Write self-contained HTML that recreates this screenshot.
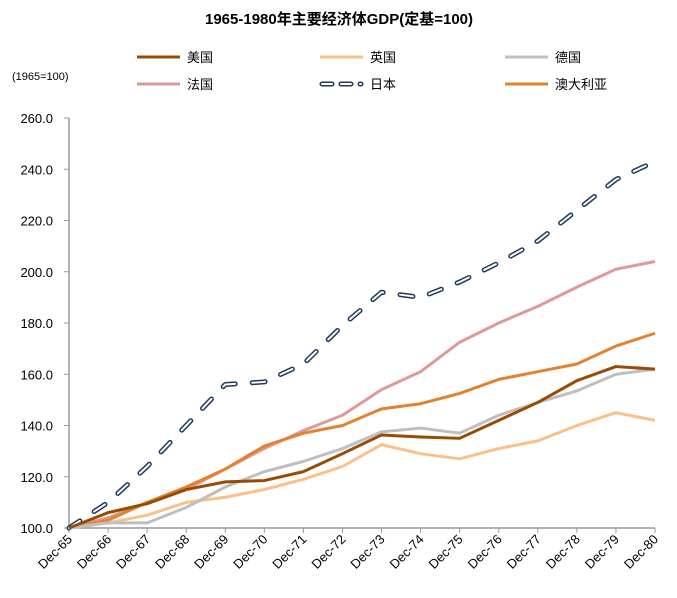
<!DOCTYPE html>
<html><head><meta charset="utf-8"><style>
body{margin:0;background:#fff;}
svg{font-family:"Liberation Sans","Noto Sans CJK SC",sans-serif;}
</style></head><body>
<svg id="chart" width="677" height="593">
<text x="339" y="24" text-anchor="middle" font-size="15" font-weight="bold">1965-1980年主要经济体GDP(定基=100)</text>
<text x="12" y="80" font-size="11">(1965=100)</text>
<g id="legend"></g>
<g id="axes"></g>
<g id="series"></g>
</svg>
<script>
const categories=["Dec-65","Dec-66","Dec-67","Dec-68","Dec-69","Dec-70","Dec-71","Dec-72","Dec-73","Dec-74","Dec-75","Dec-76","Dec-77","Dec-78","Dec-79","Dec-80"];
const usData=[100,106,109.5,115,118,118.5,122,129,136.3,135.5,135,142,149,157.5,163,162];
const ukData=[100,102,105,110,112,115,119,124,132.5,129,127,131,134,140,145,142];
const deData=[100,102,102,108,116,122,126,131,137.5,139,137,144,149,153.5,160,162];
const frData=[100,104,110,115,123,131,138,144,154,161,172.5,180,186.5,194,201,204];
const jpData=[100,110,124,140,156,157,164,179,192,190,196,203.5,212,224,236,243];
const auData=[100,103,110,116,123,132,137,140,146.5,148.5,152.5,158,161,164,171,176];
const yTicks=[100,120,140,160,180,200,220,240,260];
const seriesNames=["美国","英国","德国","法国","日本","澳大利亚"];

const NS="http://www.w3.org/2000/svg";
const x0=69,x1=655,y0=528,y1=118;
const xs=i=>x0+i*(x1-x0)/(categories.length-1);
const ys=v=>y0-(v-100)*(y0-y1)/160;
function mk(tag,attrs,parent){const e=document.createElementNS(NS,tag);for(const k in attrs)e.setAttribute(k,attrs[k]);parent.appendChild(e);return e;}
const axes=document.getElementById('axes'),ser=document.getElementById('series'),leg=document.getElementById('legend');
const ya=mk('line',{x1:x0,y1:y1,x2:x0,y2:y0,stroke:'#999','stroke-width':1.5},axes);


const xa=mk('line',{x1:x0,y1:y0,x2:x1,y2:y0,stroke:'#999','stroke-width':1.5},axes);


yTicks.forEach(v=>{
 mk('line',{x1:x0-5,y1:ys(v),x2:x0,y2:ys(v),stroke:'#999'},axes);
 const t=mk('text',{x:x0-16,y:ys(v)+5,'text-anchor':'end','font-size':13},axes);
 t.textContent=v.toFixed(1);
 
 
});
categories.forEach((c,i)=>{
 mk('line',{x1:xs(i),y1:y0,x2:xs(i),y2:y0+5,stroke:'#999'},axes);
 const t=mk('text',{x:xs(i)+4,y:y0+12,'text-anchor':'end','font-size':13,transform:`rotate(-45 ${xs(i)+4} ${y0+12})`},axes);
 t.textContent=c;
 
 
});
const cfg=[[usData,'#994B06'],[ukData,'#FBC08A'],[deData,'#BFBFBF'],[frData,'#DE9A98'],[jpData,'jp'],[auData,'#E2822F']];
const drawOrder=[4,3,5,1,2,0];
drawOrder.forEach(k=>{
 const [d,col]=cfg[k];
 const pts=d.map((v,i)=>xs(i)+','+ys(v)).join(' ');
 if(col==='jp'){
  const g=mk('g',{},ser);
  
  
  mk('polyline',{points:pts,fill:'none',stroke:'#1F3A5F','stroke-width':5,'stroke-dasharray':'13 17','stroke-linecap':'round','stroke-linejoin':'round'},g);
  mk('polyline',{points:pts,fill:'none',stroke:'#fff','stroke-width':2,'stroke-dasharray':'13 17','stroke-linecap':'round','stroke-linejoin':'round'},g);
 } else {
  const p=mk('polyline',{points:pts,fill:'none',stroke:col,'stroke-width':3,'stroke-linejoin':'round'},ser);
  
  
 }
});
const lpos=[[137,57],[320,57],[505,57],[137,84],[320,84],[505,84]];
cfg.forEach(([d,col],k)=>{
 const [lx,ly]=lpos[k];
 const g=mk('g',{},leg);
 
 
 if(col==='jp'){
  mk('line',{x1:lx+2,y1:ly,x2:lx+41,y2:ly,stroke:'#1F3A5F','stroke-width':5,'stroke-dasharray':'10 9','stroke-linecap':'round'},g);
  mk('line',{x1:lx+2,y1:ly,x2:lx+41,y2:ly,stroke:'#fff','stroke-width':2,'stroke-dasharray':'10 9','stroke-linecap':'round'},g);
 } else mk('line',{x1:lx,y1:ly,x2:lx+43,y2:ly,stroke:col,'stroke-width':3},g);
 const t=mk('text',{x:lx+50,y:ly+5,'font-size':13},g);
 t.textContent=seriesNames[k];
});
</script>
</body></html>
